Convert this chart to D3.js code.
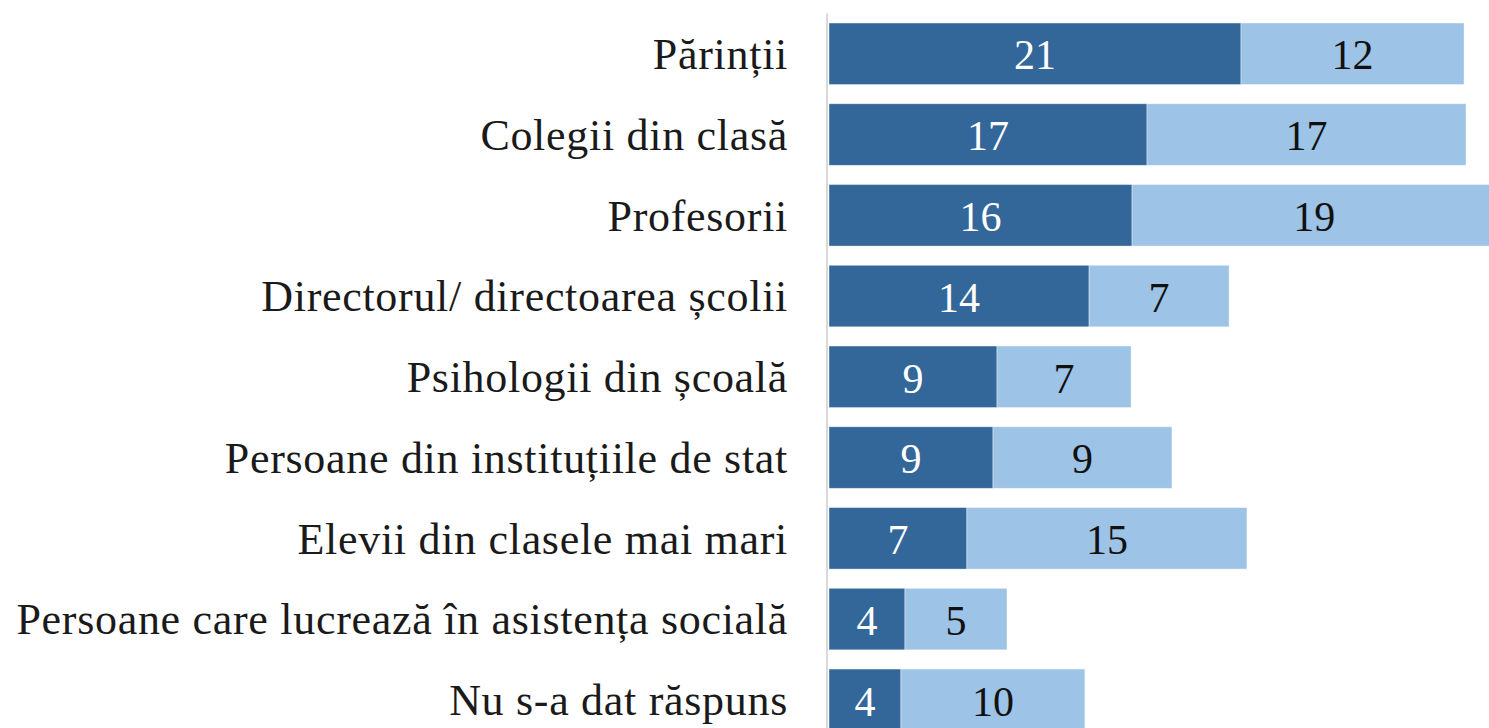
<!DOCTYPE html>
<html>
<head>
<meta charset="utf-8">
<script src="https://cdn.jsdelivr.net/npm/d3@7"></script>
<style>
  html, body { margin: 0; padding: 0; background: #fff; overflow: hidden; }
  svg { display: block; }
</style>
</head>
<body>
<svg id="chart" width="1489" height="728"></svg>
<script>
// ---- data ----
const categories = [
  "Părinții",
  "Colegii din clasă",
  "Profesorii",
  "Directorul/ directoarea școlii",
  "Psihologii din școală",
  "Persoane din instituțiile de stat",
  "Elevii din clasele mai mari",
  "Persoane care lucrează în asistența socială",
  "Nu s-a dat răspuns"
];
const seriesA = [21.48, 16.58, 15.80, 13.56, 8.76, 8.55, 7.19, 3.96, 3.75];
const seriesB = [11.63, 16.63, 19.00, 7.30, 6.99, 9.33, 14.60, 5.32, 9.59];
const seriesNames = ["A", "B"];
const colors = ["#336699", "#9dc3e6"];
const labelColors = ["#ffffff", "#111111"];

// ---- layout ----
const svg = d3.select("#chart");
const fontFamily = "'Liberation Serif', 'DejaVu Serif', serif";
const numFontSize = 42;
const catFontSize = 44;

const x = d3.scaleLinear().domain([0, 35]).range([829, 1500.3]);
const y = d3.scaleBand().domain(categories).range([13.4, 740.2])
  .paddingInner(0.238).paddingOuter(0.119);

const rows = categories.map((c, i) => ({ cat: c, a: seriesA[i], b: seriesB[i] }));
const stack = d3.stack().keys(["a", "b"]);
const stacked = stack(rows);

// bars
const g = svg.append("g");
stacked.forEach((layer, li) => {
  const lg = g.append("g").attr("fill", colors[li]);
  lg.selectAll("rect").data(layer).join("rect")
    .attr("x", d => x(d[0]))
    .attr("y", d => y(d.data.cat))
    .attr("width", d => x(d[1]) - x(d[0]))
    .attr("height", y.bandwidth())
    .attr("stroke", "#ffffff")
    .attr("stroke-opacity", 0.5)
    .attr("stroke-width", 0.8);
  g.append("g").selectAll("text").data(layer).join("text")
    .attr("x", d => (x(d[0]) + x(d[1])) / 2)
    .attr("y", d => y(d.data.cat) + y.bandwidth() / 2 + 1)
    .attr("dy", "0.35em")
    .attr("text-anchor", "middle")
    .attr("font-family", fontFamily)
    .attr("font-size", numFontSize)
    .attr("fill", labelColors[li])
    .text(d => d3.format(".0f")(d[1] - d[0]));
});

// category axis
const yAxis = d3.axisLeft(y).tickSize(0).tickPadding(0);
const ax = svg.append("g").attr("transform", "translate(788,0)").call(yAxis);
ax.select(".domain").remove();
ax.selectAll("text")
  .attr("font-family", fontFamily)
  .attr("font-size", catFontSize)
  .attr("letter-spacing", "0.7px")
  .attr("fill", "#1a1a1a")
  .attr("dy", "0.35em");

// vertical axis line
svg.append("line")
  .attr("x1", 827).attr("x2", 827)
  .attr("y1", y.range()[0]).attr("y2", y.range()[1])
  .attr("stroke", "#d9d9d9").attr("stroke-width", 2);
</script>
</body>
</html>
